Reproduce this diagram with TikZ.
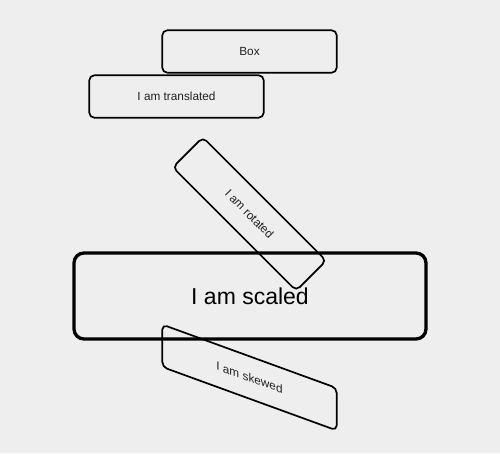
\documentclass[tikz,border=0pt]{standalone}
\usepackage{fontspec}
\setmainfont{Liberation Sans}
\definecolor{bg}{HTML}{EEEEEE}
\definecolor{txt}{HTML}{222222}
\begin{document}
\begin{tikzpicture}[x=1pt,y=1pt,
  boxstyle/.style={draw=black, line width=1.7pt, rounded corners=5pt,
    minimum width=174.4pt, minimum height=42.4pt, inner sep=0pt,
    text=txt, font=\fontsize{11.8pt}{13pt}\selectfont},
  bigbox/.style={draw=black, line width=3.3pt, rounded corners=10pt,
    minimum width=352pt, minimum height=86pt, inner sep=0pt,
    text=black, font=\fontsize{23pt}{26pt}\selectfont}]
\fill[bg] (0,0) rectangle (500,-453);
\useasboundingbox (0,0) rectangle (500,-453);
\node[boxstyle] (box) at (249.5,-51.5) {Box};
\node[boxstyle] (translated) at (176.5,-96.5) {I am translated};
\node[boxstyle, rotate=-45, transform shape] (rotated) at (249.5,-214) {I am rotated};
\node[bigbox] (scaled) at (250,-296) {I am scaled};
\node[boxstyle, yslant=-0.364, transform shape] (skewed) at (249.5,-377.5) {I am skewed};
\end{tikzpicture}
\end{document}
